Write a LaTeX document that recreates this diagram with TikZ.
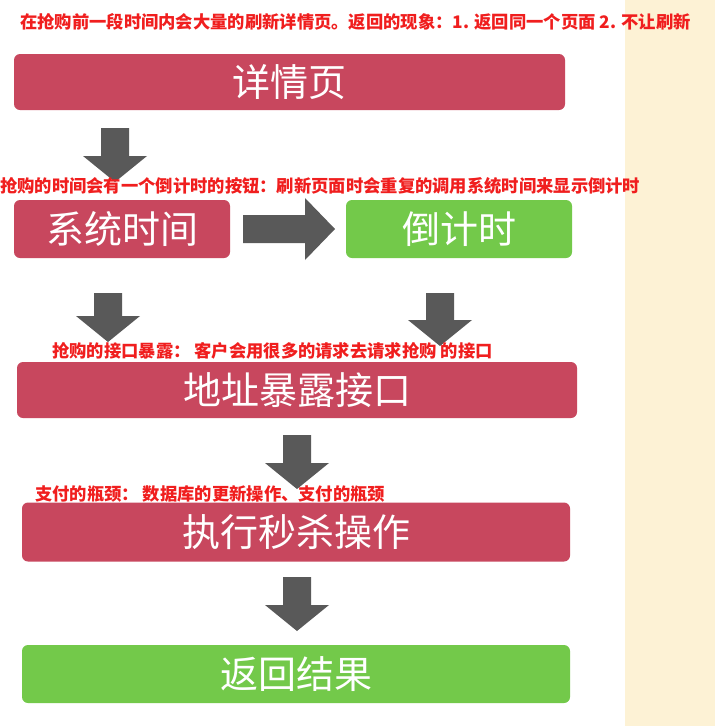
\documentclass[tikz,border=0pt]{standalone}
\usepackage{fontspec}
\newfontfamily\cjk{Noto Sans CJK SC}
\definecolor{crim}{HTML}{C8475E}
\definecolor{grn}{HTML}{73C94A}
\definecolor{agray}{HTML}{595959}
\definecolor{beige}{HTML}{FDF2D5}
\definecolor{rtext}{HTML}{F01E1E}
\tikzset{x=1pt,y=-1pt,
 box/.style={draw=none,rounded corners=6pt,inner sep=0,font=\cjk\fontsize{38}{38}\selectfont,text=white},
 note/.style={font=\cjk\bfseries\fontsize{17.3}{17.3}\selectfont,text=rtext,inner sep=0,anchor=west},
 blk/.style={fill=agray,draw=none}}
\newcommand\darr[3]{\fill[blk] (#1-14,#2) -- (#1+14,#2) -- (#1+14,#3-26) -- (#1+32,#3-26) -- (#1,#3) -- (#1-32,#3-26) -- (#1-14,#3-26) -- cycle;}
\begin{document}
\begin{tikzpicture}
\useasboundingbox (0,0) rectangle (715,726);
\fill[white] (0,0) rectangle (715,726);
\fill[beige] (625,0) rectangle (715,726);
\node[box,fill=crim,minimum width=551,minimum height=56] (d) at (289.5,82) {详情页};
\node[box,fill=crim,minimum width=216,minimum height=58] (s) at (122,229) {系统时间};
\node[box,fill=grn,minimum width=226,minimum height=58] (c) at (459,229) {倒计时};
\node[box,fill=crim,minimum width=560,minimum height=56] (a) at (297,390) {地址暴露接口};
\node[box,fill=crim,minimum width=548,minimum height=59] (e) at (296,532) {执行秒杀操作};
\node[box,fill=grn,minimum width=548,minimum height=58] (r) at (296,674) {返回结果};
\darr{115}{128}{182}
\darr{108}{293}{342}
\darr{440}{293}{346}
\darr{297}{435}{489}
\darr{297}{577}{631}
\fill[blk] (243,215) -- (305,215) -- (305,198) -- (335,229) -- (305,260) -- (305,243) -- (243,243) -- cycle;
\node[note] (n1) at (20,22) {在抢购前一段时间内会大量的刷新详情页。返回的现象：1. 返回同一个页面 2. 不让刷新};
\node[note] (n2) at (0,186) {抢购的时间会有一个倒计时的按钮：刷新页面时会重复的调用系统时间来显示倒计时};
\node[note] (n3) at (52,351) {抢购的接口暴露： 客户会用很多的请求去请求抢购 的接口};
\node[note] (n4) at (35,494) {支付的瓶颈： 数据库的更新操作、支付的瓶颈};
\end{tikzpicture}
\end{document}
